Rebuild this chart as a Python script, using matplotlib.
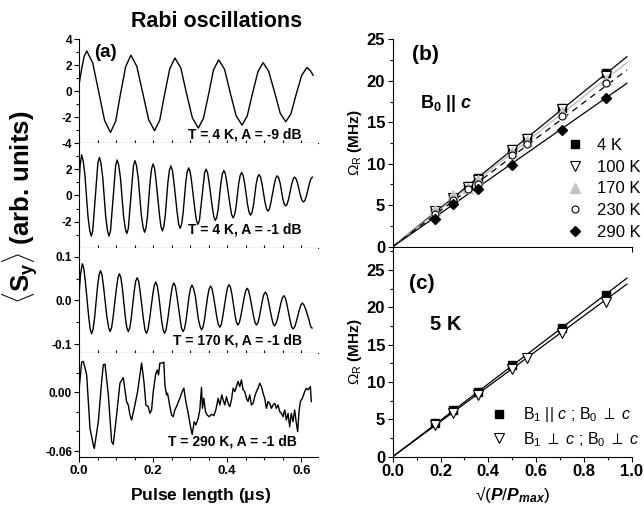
import matplotlib
matplotlib.use("Agg")
import matplotlib.pyplot as plt
from matplotlib.ticker import FixedLocator, MultipleLocator, FormatStrFormatter

plt.rcParams['font.family'] = ['Liberation Sans', 'DejaVu Sans']
plt.rcParams['mathtext.fontset'] = 'custom'
plt.rcParams['mathtext.rm'] = 'Liberation Sans'
plt.rcParams['mathtext.it'] = 'Liberation Sans:italic'
plt.rcParams['mathtext.bf'] = 'Liberation Sans:bold'
plt.rcParams['mathtext.bfit'] = 'Liberation Sans:italic:bold'
plt.rcParams['axes.unicode_minus'] = False

# ---- panel (a): Rabi oscillation traces, pulse length in us ----
t1 = [0.000, 0.007, 0.014, 0.021, 0.037, 0.053, 0.069, 0.085, 0.099, 0.112, 0.126, 0.140,
      0.156, 0.172, 0.188, 0.204, 0.218, 0.231, 0.245, 0.259, 0.275, 0.290, 0.306, 0.322,
      0.336, 0.350, 0.363, 0.377, 0.393, 0.408, 0.424, 0.440, 0.454, 0.468, 0.483, 0.497,
      0.512, 0.528, 0.543, 0.558, 0.572, 0.586, 0.601, 0.615, 0.624, 0.632]
s1 = [0.5, 1.7, 2.7, 3.1, 2.18, -0.04, -2.26, -3.18, -2.31, -0.2, 1.9, 2.77,
      1.92, -0.14, -2.2, -3.05, -2.23, -0.25, 1.74, 2.56, 1.77, -0.15, -2.06, -2.85,
      -2.08, -0.22, 1.64, 2.41, 1.68, -0.1, -1.89, -2.62, -1.92, -0.21, 1.5, 2.2,
      1.53, -0.08, -1.69, -2.36, -1.75, -0.27, 1.21, 1.82, 1.6, 1.23]

t2 = [0.000, 0.003, 0.007,
      0.011, 0.016, 0.024, 0.029, 0.033, 0.037, 0.040, 0.048, 0.051, 0.055,
      0.059, 0.064, 0.072, 0.077, 0.081, 0.085, 0.088, 0.096, 0.099, 0.103,
      0.107, 0.112, 0.120, 0.125, 0.129, 0.133, 0.136, 0.144, 0.147, 0.151,
      0.155, 0.160, 0.168, 0.173, 0.177, 0.181, 0.185, 0.192, 0.196, 0.200,
      0.204, 0.208, 0.217, 0.221, 0.225, 0.229, 0.233, 0.240, 0.244, 0.248,
      0.252, 0.256, 0.265, 0.269, 0.273, 0.277, 0.281, 0.288, 0.292, 0.296,
      0.300, 0.304, 0.313, 0.317, 0.321, 0.325, 0.328, 0.336, 0.339, 0.343,
      0.347, 0.351, 0.360, 0.364, 0.368, 0.372, 0.376, 0.383, 0.387, 0.391,
      0.395, 0.399, 0.408, 0.412, 0.416, 0.420, 0.424, 0.431, 0.435, 0.439,
      0.443, 0.447, 0.455, 0.459, 0.463, 0.467, 0.471, 0.478, 0.482, 0.486,
      0.490, 0.494, 0.502, 0.506, 0.510, 0.514, 0.518, 0.527, 0.531, 0.535,
      0.539, 0.543, 0.550, 0.554, 0.558, 0.562, 0.566, 0.574, 0.578, 0.582,
      0.586, 0.590, 0.598, 0.602, 0.606, 0.610, 0.614, 0.622, 0.626, 0.630]
s2 = [0.8, 2.3, 3.1,
      2.68, 1.55, -1.55, -2.68, -3.1, -2.7, -1.6, 1.4, 2.5, 2.9,
      2.5, 1.4, -1.6, -2.7, -3.1, -2.71, -1.65, 1.25, 2.31, 2.7,
      2.33, 1.3, -1.5, -2.53, -2.9, -2.53, -1.5, 1.26, 2.28, 2.65,
      2.29, 1.29, -1.44, -2.44, -2.8, -2.45, -1.5, 1.1, 2.05, 2.4,
      2.06, 1.13, -1.43, -2.36, -2.7, -2.37, -1.46, 1.01, 1.92, 2.25,
      1.93, 1.06, -1.31, -2.18, -2.5, -2.19, -1.35, 0.95, 1.79, 2.1,
      1.81, 1.03, -1.13, -1.91, -2.2, -1.92, -1.15, 0.95, 1.72, 2.0,
      1.74, 1.03, -0.93, -1.64, -1.9, -1.65, -0.95, 0.95, 1.65, 1.9,
      1.66, 1.0, -0.8, -1.46, -1.7, -1.47, -0.84, 0.89, 1.52, 1.75,
      1.53, 0.94, -0.69, -1.28, -1.5, -1.29, -0.73, 0.83, 1.39, 1.6,
      1.41, 0.9, -0.5, -1.01, -1.2, -1.02, -0.53, 0.83, 1.32, 1.5,
      1.35, 0.93, -0.23, -0.65, -0.8, -0.65, -0.25, 0.85, 1.25, 1.4,
      1.27, 0.93, -0.03, -0.37, -0.5, -0.37, -0.03, 0.93, 1.27, 1.4]

t3 = [0.000, 0.004, 0.009,
      0.013, 0.017, 0.026, 0.030, 0.034, 0.038, 0.042, 0.050, 0.054, 0.058,
      0.062, 0.066, 0.075, 0.080, 0.084, 0.088, 0.092, 0.101, 0.105, 0.109,
      0.113, 0.117, 0.125, 0.129, 0.133, 0.137, 0.141, 0.149, 0.153, 0.157,
      0.161, 0.165, 0.174, 0.178, 0.182, 0.186, 0.190, 0.199, 0.203, 0.207,
      0.211, 0.215, 0.223, 0.227, 0.231, 0.235, 0.239, 0.248, 0.252, 0.256,
      0.260, 0.264, 0.273, 0.277, 0.281, 0.285, 0.289, 0.297, 0.301, 0.305,
      0.309, 0.314, 0.322, 0.327, 0.331, 0.335, 0.339, 0.347, 0.351, 0.355,
      0.359, 0.363, 0.372, 0.376, 0.380, 0.384, 0.388, 0.397, 0.401, 0.405,
      0.409, 0.413, 0.421, 0.425, 0.429, 0.433, 0.437, 0.446, 0.450, 0.454,
      0.458, 0.462, 0.471, 0.475, 0.479, 0.483, 0.487, 0.495, 0.499, 0.503,
      0.507, 0.511, 0.520, 0.524, 0.528, 0.532, 0.536, 0.545, 0.549, 0.553,
      0.557, 0.561, 0.570, 0.574, 0.578, 0.582, 0.586, 0.595, 0.599, 0.603,
      0.607, 0.612, 0.621, 0.625, 0.629]
s3 = [0.01, 0.06, 0.084,
      0.073, 0.044, -0.036, -0.065, -0.076, -0.066, -0.04, 0.032, 0.058, 0.068,
      0.059, 0.033, -0.036, -0.062, -0.071, -0.062, -0.038, 0.028, 0.052, 0.061,
      0.052, 0.028, -0.038, -0.062, -0.071, -0.063, -0.04, 0.021, 0.044, 0.052,
      0.044, 0.02, -0.043, -0.067, -0.075, -0.067, -0.046, 0.013, 0.034, 0.042,
      0.034, 0.013, -0.046, -0.067, -0.075, -0.067, -0.046, 0.011, 0.032, 0.040,
      0.033, 0.012, -0.043, -0.064, -0.071, -0.064, -0.045, 0.009, 0.028, 0.035,
      0.028, 0.01, -0.042, -0.060, -0.067, -0.060, -0.042, 0.008, 0.026, 0.033,
      0.027, 0.01, -0.038, -0.055, -0.061, -0.055, -0.037, 0.012, 0.030, 0.036,
      0.030, 0.013, -0.033, -0.050, -0.056, -0.050, -0.035, 0.007, 0.022, 0.028,
      0.022, 0.007, -0.035, -0.050, -0.056, -0.051, -0.037, 0.0, 0.014, 0.019,
      0.014, 0.0, -0.039, -0.053, -0.058, -0.053, -0.041, -0.006, 0.006, 0.011,
      0.006, -0.008, -0.046, -0.060, -0.065, -0.061, -0.05, -0.021, -0.010, -0.006,
      -0.010, -0.02, -0.045, -0.059, -0.063]

t4 = [0.0000, 0.0072, 0.0117, 0.0207, 0.0296, 0.0386, 0.0413, 0.0521, 0.0611, 0.0656,
      0.0701, 0.0791, 0.0881, 0.0925, 0.1015, 0.1105, 0.1195, 0.1284, 0.1330, 0.1375,
      0.1420, 0.1509, 0.1581, 0.1644, 0.1689, 0.1752, 0.1806, 0.1869, 0.1914, 0.1959,
      0.2004, 0.2067, 0.2111, 0.2147, 0.2183, 0.2246, 0.2291, 0.2318, 0.2363, 0.2390,
      0.2453, 0.2498, 0.2543, 0.2588, 0.2651, 0.2722, 0.2785, 0.2830, 0.2884, 0.2947,
      0.3010, 0.3055, 0.3109, 0.3154, 0.3217, 0.3261, 0.3306, 0.3333, 0.3369, 0.3414,
      0.3459, 0.3513, 0.3576, 0.3639, 0.3693, 0.3756, 0.3801, 0.3854, 0.3890, 0.3935,
      0.3980, 0.4025, 0.4070, 0.4115, 0.4160, 0.4205, 0.4250, 0.4295, 0.4340, 0.4385,
      0.4430, 0.4474, 0.4519, 0.4564, 0.4609, 0.4654, 0.4699, 0.4744, 0.4789, 0.4834,
      0.4879, 0.4924, 0.4969, 0.5013, 0.5058, 0.5103, 0.5148, 0.5193, 0.5238, 0.5283,
      0.5328, 0.5373, 0.5418, 0.5463, 0.5508, 0.5553, 0.5598, 0.5643, 0.5687, 0.5732,
      0.5777, 0.5822, 0.5867, 0.5903, 0.5939, 0.5975, 0.6029, 0.6092, 0.6137, 0.6182,
      0.6245, 0.6271]
s4 = [0.0024, 0.0307, 0.0314, 0.0177, -0.0368, -0.0539, -0.0573, -0.0300, 0.0109, 0.0280,
      0.0286, -0.0027, -0.0505, -0.0532, -0.0232, 0.0092, 0.0150, -0.0095, -0.0130, -0.0232,
      -0.0283, -0.0130, 0.0007, 0.0177, 0.0297, 0.0109, -0.0130, -0.0147, -0.0215, -0.0181,
      0.0007, 0.0177, 0.0228, 0.0177, 0.0297, 0.0297, 0.0307, 0.0075, -0.0027, -0.0010,
      -0.0147, -0.0232, -0.0249, -0.0181, -0.0130, -0.0061, 0.0007, 0.0041, -0.0095, -0.0215,
      -0.0351, -0.0430, -0.0300, -0.0334, -0.0266, -0.0181, 0.0048, -0.0164, -0.0061, -0.0198,
      -0.0232, -0.0249, -0.0225, -0.0239, -0.0181, -0.0061, -0.0130, -0.0027, -0.0078, -0.0130,
      -0.0044, -0.0113, -0.0147, -0.0078, 0.0041, 0.0007, 0.0058, 0.0109, 0.0058, 0.0126,
      0.0024, 0.0007, -0.0061, -0.0095, -0.0027, -0.0130, -0.0113, -0.0044, 0.0007, 0.0041,
      0.0092, 0.0058, -0.0010, -0.0061, -0.0164, -0.0095, -0.0113, -0.0164, -0.0130, -0.0113,
      -0.0164, -0.0130, -0.0198, -0.0215, -0.0249, -0.0181, -0.0283, -0.0215, -0.0351, -0.0215,
      -0.0300, -0.0181, -0.0317, -0.0402, -0.0198, -0.0095, -0.0061, 0.0007, 0.0041, 0.0024,
      0.0058, -0.0095]

traces = [(t1, s1), (t2, s2), (t3, s3), (t4, s4)]
trace_labels = ["T = 4 K, A = -9 dB", "T = 4 K, A = -1 dB",
                "T = 170 K, A = -1 dB", "T = 290 K, A = -1 dB"]

# ---- panel (b): Rabi frequency vs sqrt(P/Pmax), B0 || c ----
xb = [0.178, 0.251, 0.316, 0.355, 0.501, 0.562, 0.708, 0.891]
b_4K = [4.3, 5.9, 7.3, 8.3, 11.8, 13.1, 16.7, 20.9]
b_100K = [4.3, 5.9, 7.2, 8.1, 11.7, 13.0, 16.6, 20.6]
b_170K = [4.4, 6.2, 7.1, 8.0, 11.4, 12.8, 16.2, 20.1]
b_230K = [4.0, 5.6, 6.9, 7.6, 11.0, 12.4, 15.7, 19.7]
xb_290 = [0.178, 0.251, 0.355, 0.501, 0.708, 0.891]
b_290K = [3.3, 5.1, 7.0, 9.8, 14.1, 17.9]
fit_x = [0.0, 0.98]
fit_b_4K = [0.0, 22.9]
fit_b_170K = [0.0, 22.2]
fit_b_230K = [0.0, 21.3]
fit_b_290K = [0.0, 19.7]

# ---- panel (c): 5 K, two field geometries ----
xc_par = [0.178, 0.251, 0.355, 0.501, 0.708, 0.891]
c_par = [4.5, 6.2, 8.7, 12.3, 17.2, 21.7]
xc_perp = [0.178, 0.251, 0.355, 0.501, 0.562, 0.708, 0.891]
c_perp = [4.2, 5.8, 8.3, 11.7, 13.2, 16.5, 20.7]
fit_c_par = [0.0, 23.9]
fit_c_perp = [0.0, 23.1]

fig = plt.figure(figsize=(6.44, 5.13), dpi=100)

# left stack
left_boxes = [(0.1227, 0.7212, 0.371, 0.2022), (0.1227, 0.5166, 0.371, 0.2047),
              (0.1227, 0.3119, 0.371, 0.2047), (0.1227, 0.1092, 0.371, 0.2027)]
ylims = [(-4, 4), (-4, 4), (-0.12, 0.12), (-0.066, 0.04)]
ymajor = [[-4, -2, 0, 2, 4], [-2, 0, 2], [-0.1, 0.0, 0.1], [-0.06, 0.0]]
yminor = [[-3, -1, 1, 3], [-3, -1, 1, 3], [-0.05, 0.05], [-0.04, -0.02, 0.02]]
yfmt = ['%d', '%d', '%.1f', '%.2f']
label_pos = [(0.933, 0.015), (0.933, 0.105), (0.933, 0.05), (0.912, 0.085)]

for i, (t, s) in enumerate(traces):
    ax = fig.add_axes(left_boxes[i])
    ax.plot(t, s, color='black', lw=1.0)
    ax.set_xlim(0, 0.645)
    ax.set_ylim(*ylims[i])
    ax.spines['top'].set_visible(False)
    ax.spines['right'].set_visible(False)
    ax.yaxis.set_major_locator(FixedLocator(ymajor[i]))
    ax.yaxis.set_minor_locator(FixedLocator(yminor[i]))
    ax.yaxis.set_major_formatter(FormatStrFormatter(yfmt[i]))
    ax.xaxis.set_major_locator(MultipleLocator(0.2))
    ax.xaxis.set_minor_locator(MultipleLocator(0.05))
    ax.tick_params(axis='y', which='major', direction='out', length=3.5, width=0.8,
                   labelsize=8.5, pad=1.5)
    ax.tick_params(axis='y', which='minor', direction='out', length=2, width=0.8)
    if i < 3:
        ax.tick_params(axis='x', which='both', direction='in', length=2, width=0.8,
                       labelbottom=False)
    else:
        ax.tick_params(axis='x', which='major', direction='out', length=3.5, width=0.8,
                       labelsize=9.5, pad=2)
        ax.tick_params(axis='x', which='minor', direction='out', length=2, width=0.8)
        ax.xaxis.set_major_formatter(FormatStrFormatter('%.1f'))
    for lab in ax.get_xticklabels() + ax.get_yticklabels():
        lab.set_fontweight('bold')
    ax.text(label_pos[i][0], label_pos[i][1], trace_labels[i], transform=ax.transAxes,
            ha='right', va='bottom', fontsize=10, fontweight='bold')
    if i == 0:
        ax.text(0.065, 0.95, "(a)", transform=ax.transAxes, ha='left', va='top',
                fontsize=13.5, fontweight='bold')

fig.text(0.337, 0.958, "Rabi oscillations", ha='center', va='center', fontsize=15.5,
         fontweight='bold')
fig.text(0.311, 0.035, r"Pulse length ($\mathbf{\mu}$s)", ha='center', va='center',
         fontsize=12.5, fontweight='bold')
fig.text(0.032, 0.596, r"$\langle\mathbf{S_y}\rangle$ (arb. units)", rotation=90,
         ha='center', va='center', fontsize=18.5, fontweight='bold')

# right panels
axb = fig.add_axes((0.6098, 0.5191, 0.3711, 0.4043))
axc = fig.add_axes((0.6098, 0.1097, 0.3711, 0.4078))

axb.plot(fit_x, fit_b_4K, color='black', lw=0.9)
axb.plot(fit_x, fit_b_170K, color='#b8b8b8', lw=0.9)
axb.plot(fit_x, fit_b_230K, color='black', lw=0.9, ls=(0, (5, 4)))
axb.plot(fit_x, fit_b_290K, color='black', lw=0.9)
axb.plot(xb, b_4K, 's', color='black', ms=5.5, label='4 K')
axb.plot(xb, b_100K, 'v', mfc='white', mec='black', mew=0.8, ms=6.5, label='100 K')
axb.plot(xb, b_170K, '^', color='#c4c4c4', ms=6.5, label='170 K')
axb.plot(xb, b_230K, 'o', mfc='white', mec='black', mew=0.8, ms=5, label='230 K')
axb.plot(xb_290, b_290K, 'D', color='black', ms=5, label='290 K')
axb.set_ylim(0, 25)

axc.plot(fit_x, fit_c_par, color='black', lw=0.9)
axc.plot(fit_x, fit_c_perp, color='black', lw=0.9)
axc.plot(xc_par, c_par, 's', color='black', ms=5.5,
         label=r"B$_1$ || $c$ ; B$_0$ $\perp$ $c$")
axc.plot(xc_perp, c_perp, 'v', mfc='white', mec='black', mew=0.8, ms=6.5,
         label=r"B$_1$ $\perp$ $c$ ; B$_0$ $\perp$ $c$")
axc.set_ylim(0, 28)

for ax in (axb, axc):
    ax.set_xlim(0, 1.0)
    ax.spines['top'].set_visible(False)
    ax.spines['right'].set_visible(False)
    ax.yaxis.set_major_locator(MultipleLocator(5))
    ax.yaxis.set_minor_locator(MultipleLocator(2.5))
    ax.xaxis.set_major_locator(MultipleLocator(0.2))
    ax.xaxis.set_minor_locator(MultipleLocator(0.1))
    ax.xaxis.set_major_formatter(FormatStrFormatter('%.1f'))
    ax.tick_params(which='major', direction='out', length=3.5, width=0.8, labelsize=12,
                   pad=2)
    ax.tick_params(which='minor', direction='out', length=2, width=0.8)
    ax.set_ylabel(r"$\Omega_\mathrm{R}$ (MHz)", fontsize=11, fontweight='bold', labelpad=2)
    for lab in ax.get_xticklabels() + ax.get_yticklabels():
        lab.set_fontweight('bold')

axb.tick_params(axis='x', labelbottom=False)
axc.set_xlabel(r"√($\mathbfit{P}$/$\mathbfit{P}_{\mathbfit{max}}$)", fontsize=12.5,
               labelpad=3)

axb.text(0.08, 23.2, "(b)", ha='left', va='center', fontsize=15, fontweight='bold')
axb.text(0.115, 17.3, r"B$_\mathbf{0}$ || $\mathbfit{c}$", ha='left', va='center',
         fontsize=13, fontweight='bold')
axc.text(0.07, 23.2, "(c)", ha='left', va='center', fontsize=15, fontweight='bold')
axc.text(0.156, 17.7, "5 K", ha='left', va='center', fontsize=14.5, fontweight='bold')

axb.legend(loc='upper left', bbox_to_anchor=(0.728, 0.524), frameon=False, fontsize=12,
           handlelength=1.0, handletextpad=0.8, labelspacing=0.4, borderpad=0,
           borderaxespad=0, numpoints=1)
axc.legend(loc='upper left', bbox_to_anchor=(0.41, 0.245), frameon=False, fontsize=11.5,
           handlelength=1.0, handletextpad=1.0, labelspacing=0.35, borderpad=0,
           borderaxespad=0, numpoints=1)

fig.savefig("out.png", dpi=100)
